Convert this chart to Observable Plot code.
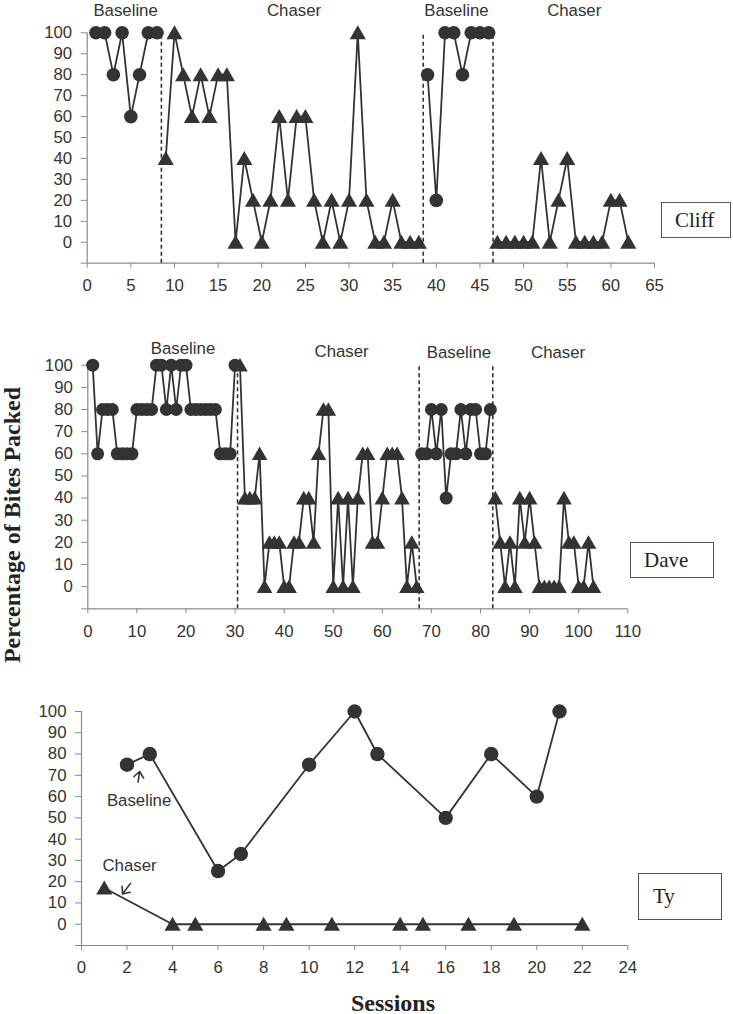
<!DOCTYPE html>
<html>
<head>
<meta charset="utf-8">
<script src="https://cdn.jsdelivr.net/npm/d3@7"></script>
<script src="https://cdn.jsdelivr.net/npm/@observablehq/plot@0.6"></script>
<style>
  html, body { margin: 0; padding: 0; background: #fff; }
  #wrap { position: relative; width: 733px; height: 1014px; font-family: "Liberation Sans", Arial, sans-serif; }
  #wrap svg { position: absolute; left: 0; overflow: visible; }
  .box { position: absolute; border: 1.5px solid #555; box-sizing: border-box; font-family: "Liberation Serif", "Times New Roman", serif; font-size: 21px; color: #222; display: flex; align-items: center; }
  .ytitle { position: absolute; font-family: "Liberation Serif", "Times New Roman", serif; font-weight: bold; font-size: 24px; color: #222; white-space: nowrap; transform: translate(-50%, -50%) rotate(-90deg); }
  .xtitle { position: absolute; font-family: "Liberation Serif", "Times New Roman", serif; font-weight: bold; font-size: 24px; color: #222; white-space: nowrap; transform: translate(-50%, -50%); }
</style>
</head>
<body>
<div id="wrap"></div>
<script>
// ---------- Data ----------
// Cliff (sessions are consecutive from each phase's first session)
const cliffBaseline1Start = 1;
const cliffBaseline1 = [100, 100, 80, 100, 60, 80, 100, 100];
const cliffChaser1Start = 9;
const cliffChaser1 = [40, 100, 80, 60, 80, 60, 80, 80, 0, 40, 20, 0, 20, 60, 20, 60, 60, 20, 0, 20, 0, 20, 100, 20, 0, 0, 20, 0, 0, 0];
const cliffBaseline2Start = 39;
const cliffBaseline2 = [80, 20, 100, 100, 80, 100, 100, 100];
const cliffChaser2Start = 47;
const cliffChaser2 = [0, 0, 0, 0, 0, 40, 0, 20, 40, 0, 0, 0, 0, 20, 20, 0];
const cliffPhaseChanges = [8.5, 38.5, 46.5];

// Dave
const daveBaseline1Start = 1;
const daveBaseline1 = [100, 60, 80, 80, 80, 60, 60, 60, 60, 80, 80, 80, 80, 100, 100, 80, 100, 80, 100, 100, 80, 80, 80, 80, 80, 80, 60, 60, 60, 100];
const daveChaser1Start = 31;
const daveChaser1 = [100, 40, 40, 40, 60, 0, 20, 20, 20, 0, 0, 20, 20, 40, 40, 20, 60, 80, 80, 0, 40, 0, 40, 0, 40, 60, 60, 20, 20, 40, 60, 60, 60, 40, 0, 20, 0];
const daveBaseline2Start = 68;
const daveBaseline2 = [60, 60, 80, 60, 80, 40, 60, 60, 80, 60, 80, 80, 60, 60, 80];
const daveChaser2Start = 83;
const daveChaser2 = [40, 20, 0, 20, 0, 40, 20, 40, 20, 0, 0, 0, 0, 0, 40, 20, 20, 0, 0, 20, 0];
const davePhaseChanges = [30.5, 67.5, 82.5];

// Ty
const tyBaselineSessions = [2, 3, 6, 7, 10, 12, 13, 16, 18, 20, 21];
const tyBaselineValues = [75, 80, 25, 33, 75, 100, 80, 50, 80, 60, 100];
const tyChaserSessions = [1, 4, 5, 8, 9, 11, 14, 15, 17, 19, 22];
const tyChaserValues = [17, 0, 0, 0, 0, 0, 0, 0, 0, 0, 0];

// Tick labels
const yTicks = [0, 10, 20, 30, 40, 50, 60, 70, 80, 90, 100];
const cliffXTicks = [0, 5, 10, 15, 20, 25, 30, 35, 40, 45, 50, 55, 60, 65];
const daveXTicks = [0, 10, 20, 30, 40, 50, 60, 70, 80, 90, 100, 110];
const tyXTicks = [0, 2, 4, 6, 8, 10, 12, 14, 16, 18, 20, 22, 24];

const phaseNames = ["Baseline", "Chaser", "Baseline", "Chaser"];

// ---------- helpers ----------
function phaseRows(start, values, seg, shape) {
  return values.map((v, i) => ({session: start + i, value: v, seg, shape}));
}
function pairRows(sessions, values, seg, shape) {
  return sessions.map((s, i) => ({session: s, value: values[i], seg, shape}));
}

const INK = "#333";
const AXIS = "#8a8a8a";
const FONT = "Liberation Sans, Arial, sans-serif";

// open-chevron arrow shape for Plot.vector (drawn pointing up, tip at -l)
const chevronArrow = {
  draw(ctx, l) {
    ctx.moveTo(0, 0);
    ctx.lineTo(0, -l);
    ctx.moveTo(-5, -l + 6);
    ctx.lineTo(0, -l);
    ctx.lineTo(5, -l + 6);
  }
};

function panel(cfg) {
  const rows = cfg.rows;
  const circles = rows.filter(d => d.shape === "circle");
  const tris = rows.filter(d => d.shape === "triangle");
  const xmin = cfg.xDomain[0], xmax = cfg.xDomain[1];
  const marks = [
    Plot.ruleX([xmin], {y1: -10, y2: 100, stroke: AXIS, strokeWidth: 1.2}),
    Plot.ruleY([-10], {x1: xmin, x2: xmax, stroke: AXIS, strokeWidth: 1.2}),
    Plot.axisY({ticks: [-10, ...yTicks], tickFormat: d => d < 0 ? "" : d, tickSize: 6, tickPadding: 9, stroke: AXIS, fill: INK, fontSize: 16.8, label: null}),
    Plot.axisX({ticks: cfg.xTicks, tickSize: 5, tickPadding: 11, stroke: AXIS, fill: INK, fontSize: 16.8, label: null}),
    Plot.ruleX(cfg.phaseChanges || [], {x: d => d, y1: -10, y2: 100, stroke: INK, strokeWidth: 1.6, strokeDasharray: "4,3"}),
    Plot.line(rows, {x: "session", y: "value", z: "seg", stroke: INK, strokeWidth: 1.8}),
    Plot.dot(circles, {x: "session", y: "value", symbol: "circle", r: cfg.rc || 6.8, fill: INK, stroke: "none"}),
    Plot.dot(tris, {x: "session", y: "value", symbol: "triangle", r: cfg.rt || 6, fill: INK, stroke: "none", dy: 1.8})
  ];
  if (cfg.labels) {
    marks.push(Plot.text(cfg.labels, {x: "x", y: "y", text: "t", fill: INK, fontSize: 16.8, fontFamily: FONT}));
  }
  if (cfg.extra) marks.push(...cfg.extra);
  const svg = Plot.plot({
    width: 733,
    height: cfg.height,
    marginLeft: cfg.marginLeft,
    marginRight: cfg.marginRight,
    marginTop: cfg.marginTop,
    marginBottom: cfg.marginBottom,
    style: {fontFamily: FONT, background: "transparent", overflow: "visible"},
    x: {domain: cfg.xDomain},
    y: {domain: [-10, 100]},
    marks
  });
  svg.style.top = cfg.top + "px";
  return svg;
}

const wrap = document.getElementById("wrap");

// Cliff
const cliffRows = [
  ...phaseRows(cliffBaseline1Start, cliffBaseline1, "b1", "circle"),
  ...phaseRows(cliffChaser1Start, cliffChaser1, "c1", "triangle"),
  ...phaseRows(cliffBaseline2Start, cliffBaseline2, "b2", "circle"),
  ...phaseRows(cliffChaser2Start, cliffChaser2, "c2", "triangle")
];
const cliffLabelX = [4.4, 23.7, 42.3, 55.8];
wrap.appendChild(panel({
  top: 0, height: 300, marginTop: 32.3, marginBottom: 37.3, marginLeft: 86.7, marginRight: 79,
  xDomain: [0, 65], xTicks: cliffXTicks, rows: cliffRows, phaseChanges: cliffPhaseChanges,
  labels: phaseNames.map((t, i) => ({t, x: cliffLabelX[i], y: 110.4}))
}));

// Dave
const daveRows = [
  ...phaseRows(daveBaseline1Start, daveBaseline1, "b1", "circle"),
  ...phaseRows(daveChaser1Start, daveChaser1, "c1", "triangle"),
  ...phaseRows(daveBaseline2Start, daveBaseline2, "b2", "circle"),
  ...phaseRows(daveChaser2Start, daveChaser2, "c2", "triangle")
];
const daveLabelX = [19.4, 51.7, 75.6, 95.8];
const daveLabelY = [107.4, 106.3, 105.5, 105.5];
wrap.appendChild(panel({
  top: 320, height: 330, marginTop: 44.7, marginBottom: 41.7, marginLeft: 87.3, marginRight: 105.7,
  xDomain: [0, 110], xTicks: daveXTicks, rows: daveRows, phaseChanges: davePhaseChanges,
  rc: 6.5, rt: 5.8,
  labels: phaseNames.map((t, i) => ({t, x: daveLabelX[i], y: daveLabelY[i]}))
}));

// Ty
const tyRows = [
  ...pairRows(tyBaselineSessions, tyBaselineValues, "b", "circle"),
  ...pairRows(tyChaserSessions, tyChaserValues, "c", "triangle")
];
wrap.appendChild(panel({
  top: 660, height: 320, marginTop: 51, marginBottom: 35, marginLeft: 81, marginRight: 105.7,
  xDomain: [0, 24], xTicks: tyXTicks, rows: tyRows, rc: 7.2, rt: 6,
  labels: [{t: "Baseline", x: 2.53, y: 57.9}, {t: "Chaser", x: 2.11, y: 27.5}],
  extra: [
    Plot.vector([{x: 2.55, y: 71.8, len: 12, rot: 8}, {x: 1.8, y: 14.2, len: 15, rot: 217}],
      {x: "x", y: "y", length: "len", rotate: "rot", anchor: "end", shape: chevronArrow, stroke: INK, strokeWidth: 1.6})
  ]
}));

// Participant boxes
function box(text, left, top, w, h, pad) {
  const d = document.createElement("div");
  d.className = "box";
  d.style.left = left + "px"; d.style.top = top + "px";
  d.style.width = w + "px"; d.style.height = h + "px";
  d.style.paddingLeft = pad + "px";
  d.textContent = text;
  wrap.appendChild(d);
}
box("Cliff", 661, 202, 70, 36, 13);
box("Dave", 630, 542, 84, 36, 13);
box("Ty", 638, 873, 84, 47, 14);

// Axis titles
const yt = document.createElement("div");
yt.className = "ytitle"; yt.textContent = "Percentage of Bites Packed";
yt.style.left = "12px"; yt.style.top = "525px";
wrap.appendChild(yt);
const xt = document.createElement("div");
xt.className = "xtitle"; xt.textContent = "Sessions";
xt.style.left = "393px"; xt.style.top = "1003px";
wrap.appendChild(xt);
</script>
</body>
</html>
